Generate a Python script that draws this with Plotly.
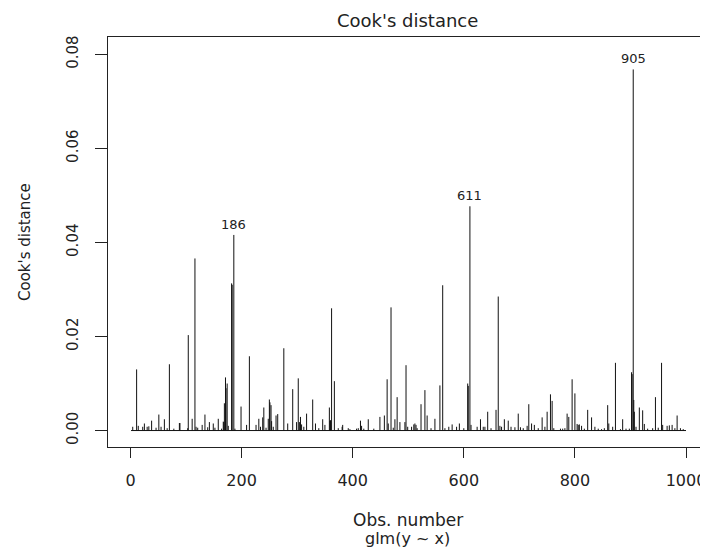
import plotly.graph_objects as go

n_obs = 1000
obs_ids = [4, 11, 14, 22, 25, 30, 33, 38, 46, 51, 55, 61, 66, 70, 78, 88, 89, 103, 104, 111,
           116, 118, 121, 129, 134, 139, 142, 149, 152, 158, 164, 167, 168, 169, 171, 172, 174, 176, 182, 183,
           186, 188, 199, 209, 214, 226, 231, 234, 238, 240, 244, 248, 250, 251, 253, 254, 257, 262, 265, 276,
           283, 292, 299, 302, 304, 306, 308, 312, 317, 328, 333, 339, 346, 350, 358, 359, 360, 362, 367, 374,
           381, 382, 392, 395, 407, 410, 414, 416, 420, 428, 438, 449, 457, 462, 464, 469, 473, 476, 480, 485,
           494, 496, 499, 506, 510, 512, 514, 516, 523, 530, 534, 541, 548, 557, 562, 566, 573, 579, 587, 592,
           600, 607, 608, 611, 613, 624, 630, 635, 638, 643, 649, 658, 662, 665, 668, 673, 680, 685, 692, 698,
           702, 707, 714, 717, 722, 727, 734, 741, 746, 750, 756, 759, 762, 774, 778, 782, 786, 789, 795, 800,
           804, 806, 808, 812, 817, 823, 830, 836, 842, 848, 853, 859, 861, 868, 873, 882, 886, 892, 898, 902,
           903, 905, 906, 907, 910, 916, 922, 925, 931, 940, 945, 950, 956, 958, 966, 970, 975, 980, 984, 990,
           995]
cooks_d = [0.0008, 0.0130, 0.0010, 0.0008, 0.0015, 0.0008, 0.0009, 0.0021, 0.0006, 0.0034, 0.0008, 0.0024, 0.0005, 0.0141, 0.0004, 0.0016, 0.0016, 0.0005, 0.0203, 0.0025,
           0.0366, 0.0008, 0.0006, 0.0012, 0.0034, 0.0007, 0.0018, 0.0015, 0.0006, 0.0025, 0.0004, 0.0019, 0.0018, 0.0058, 0.0113, 0.0090, 0.0100, 0.0010, 0.0313, 0.0310,
           0.0416, 0.0004, 0.0051, 0.0012, 0.0158, 0.0012, 0.0025, 0.0008, 0.0028, 0.0049, 0.0006, 0.0025, 0.0066, 0.0060, 0.0054, 0.0020, 0.0008, 0.0032, 0.0035, 0.0175,
           0.0015, 0.0088, 0.0018, 0.0111, 0.0018, 0.0029, 0.0013, 0.0008, 0.0036, 0.0066, 0.0015, 0.0005, 0.0024, 0.0012, 0.0049, 0.0021, 0.0022, 0.0260, 0.0105, 0.0005,
           0.0008, 0.0012, 0.0005, 0.0003, 0.0004, 0.0005, 0.0021, 0.0010, 0.0004, 0.0024, 0.0004, 0.0029, 0.0032, 0.0109, 0.0015, 0.0262, 0.0006, 0.0024, 0.0071, 0.0018,
           0.0018, 0.0139, 0.0008, 0.0008, 0.0013, 0.0015, 0.0012, 0.0005, 0.0056, 0.0086, 0.0032, 0.0005, 0.0025, 0.0096, 0.0309, 0.0005, 0.0008, 0.0013, 0.0008, 0.0015,
           0.0005, 0.0100, 0.0095, 0.0477, 0.0012, 0.0008, 0.0024, 0.0008, 0.0008, 0.0040, 0.0005, 0.0044, 0.0285, 0.0010, 0.0008, 0.0024, 0.0021, 0.0008, 0.0007, 0.0036,
           0.0007, 0.0005, 0.0010, 0.0056, 0.0015, 0.0012, 0.0005, 0.0028, 0.0008, 0.0040, 0.0077, 0.0063, 0.0005, 0.0004, 0.0004, 0.0005, 0.0036, 0.0029, 0.0109, 0.0079,
           0.0014, 0.0012, 0.0013, 0.0010, 0.0004, 0.0044, 0.0028, 0.0008, 0.0004, 0.0003, 0.0005, 0.0054, 0.0015, 0.0008, 0.0144, 0.0003, 0.0024, 0.0004, 0.0004, 0.0124,
           0.0120, 0.0768, 0.0065, 0.0040, 0.0008, 0.0049, 0.0043, 0.0014, 0.0004, 0.0005, 0.0071, 0.0006, 0.0144, 0.0012, 0.0010, 0.0011, 0.0012, 0.0005, 0.0032, 0.0005,
           0.0003]
label_ids = [186, 611, 905]
x_ticks = [0, 200, 400, 600, 800, 1000]
y_ticks = [0.00, 0.02, 0.04, 0.06, 0.08]
y_tick_text = ["0.00", "0.02", "0.04", "0.06", "0.08"]

seg_x, seg_y = [], []
for i, d in zip(obs_ids, cooks_d):
    seg_x += [i, i, None]
    seg_y += [0, d, None]

fig = go.Figure()
fig.add_trace(go.Scatter(x=[1, n_obs], y=[0, 0], mode="lines",
                         line=dict(color="#111111", width=1), hoverinfo="skip", showlegend=False))
fig.add_trace(go.Scatter(x=seg_x, y=seg_y, mode="lines",
                         line=dict(color="#111111", width=1), showlegend=False))

lookup = dict(zip(obs_ids, cooks_d))
for lid in label_ids:
    fig.add_annotation(x=lid, y=lookup[lid], text=str(lid), showarrow=False,
                       yanchor="bottom", xanchor="center", yshift=1,
                       font=dict(family="DejaVu Sans", size=13, color="#222222"))

fig.add_annotation(text="Cook's distance", xref="paper", yref="paper", x=0.5, y=1,
                   yshift=17, yanchor="middle", showarrow=False,
                   font=dict(family="DejaVu Sans", size=18, color="#222222"))
fig.add_annotation(text="Obs. number", xref="paper", yref="paper", x=0.5, y=0,
                   yshift=-73, yanchor="middle", showarrow=False,
                   font=dict(family="DejaVu Sans", size=17, color="#222222"))
fig.add_annotation(text="glm(y ~ x)", xref="paper", yref="paper", x=0.5, y=0,
                   yshift=-91, yanchor="middle", showarrow=False,
                   font=dict(family="DejaVu Sans", size=16, color="#222222"))
fig.add_annotation(text="Cook's distance", xref="paper", yref="paper", x=0, y=0.5,
                   xshift=-83, xanchor="center", textangle=-90, showarrow=False,
                   font=dict(family="DejaVu Sans", size=15, color="#222222"))

# the page body adds an 8px offset, so the figure is 700x544 and placed to land on the reference layout
fig.update_layout(
    width=700, height=544,
    margin=dict(l=100, r=1, t=29, b=105),
    plot_bgcolor="white", paper_bgcolor="white",
    font=dict(family="DejaVu Sans", color="#222222"),
    xaxis=dict(range=[-40.5, 1037.8], tickmode="array", tickvals=x_ticks,
               ticks="outside", ticklen=10, tickcolor="#222222", tickwidth=1,
               showline=True, linecolor="#222222", linewidth=1, mirror=True,
               showgrid=False, zeroline=False, tickfont=dict(size=16), ticklabelstandoff=9),
    yaxis=dict(range=[-0.0035, 0.0837], tickmode="array", tickvals=y_ticks, ticktext=y_tick_text,
               ticks="outside", ticklen=12, tickcolor="#222222", tickwidth=1, tickangle=-90,
               showline=True, linecolor="#222222", linewidth=1, mirror=True,
               showgrid=False, zeroline=False, tickfont=dict(size=15), ticklabelstandoff=11),
)

fig.write_html("out.html")
